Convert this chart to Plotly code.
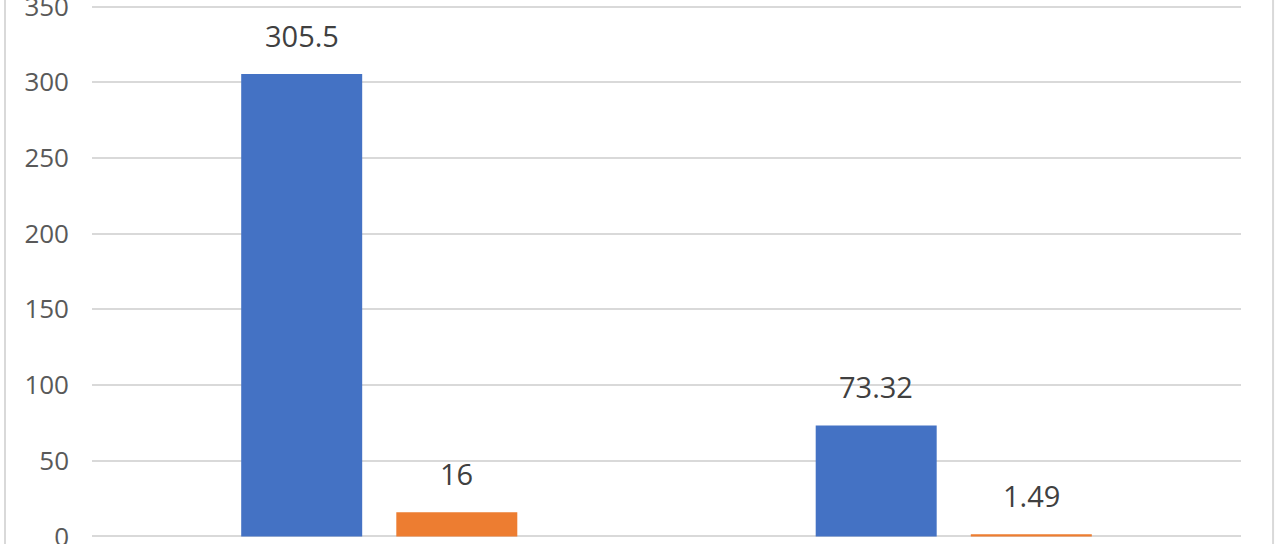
import plotly.graph_objects as go

categories = ["类别1", "类别2"]
series1_name = "系列1"
series2_name = "系列2"
series1_values = [305.5, 73.32]
series2_values = [16, 1.49]
series1_labels = ["305.5", "73.32"]
series2_labels = ["16", "1.49"]
y_ticks = [0, 50, 100, 150, 200, 250, 300, 350]

BLUE = "#4472C4"
ORANGE = "#ED7D31"
GRID = "#D9D9D9"
FONT = "Open Sans"

fig = go.Figure()
fig.add_trace(go.Bar(x=categories, y=series1_values, name=series1_name,
                     marker=dict(color=BLUE, line=dict(width=0))))
fig.add_trace(go.Bar(x=categories, y=series2_values, name=series2_name,
                     marker=dict(color=ORANGE, line=dict(width=0))))

annotations = []
for cat, v, t in zip(categories, series1_values, series1_labels):
    annotations.append(dict(x=cat, y=v, text=t, xref="x", yref="y", showarrow=False,
                            xshift=-77.5, yshift=17, yanchor="bottom",
                            font=dict(family=FONT, size=29, color="#404040")))
for cat, v, t in zip(categories, series2_values, series2_labels):
    annotations.append(dict(x=cat, y=v, text=t, xref="x", yref="y", showarrow=False,
                            xshift=77.5, yshift=17, yanchor="bottom",
                            font=dict(family=FONT, size=29, color="#404040")))

fig.update_layout(
    width=1280, height=544,
    margin=dict(l=92, r=39, t=4.5, b=5.5, autoexpand=False),
    paper_bgcolor="white", plot_bgcolor="white",
    barmode="group", bargap=0.46, bargroupgap=0.22,
    showlegend=False,
    font=dict(family=FONT, color="#595959"),
    annotations=annotations,
    xaxis=dict(showticklabels=False, showgrid=False, zeroline=False, showline=False,
               ticks="", automargin=False),
    yaxis=dict(range=[-1, 351], tickvals=y_ticks, showgrid=True, gridcolor=GRID,
               gridwidth=1.5, zeroline=True, zerolinecolor=GRID, zerolinewidth=1.5,
               showline=False, ticks="", ticklabelstandoff=22, automargin=False,
               ticklabeloverflow="allow",
               tickfont=dict(family=FONT, size=26, color="#595959")),
    shapes=[
        dict(type="line", xref="paper", yref="paper", x0=-0.0757, x1=-0.0757,
             y0=-0.05, y1=1.05, line=dict(color=GRID, width=2)),
        dict(type="line", xref="paper", yref="paper", x0=1.0279, x1=1.0279,
             y0=-0.05, y1=1.05, line=dict(color=GRID, width=2)),
    ],
)

fig.write_html("out.html", config={"displayModeBar": False},
               post_script="document.body.style.margin='0';")
